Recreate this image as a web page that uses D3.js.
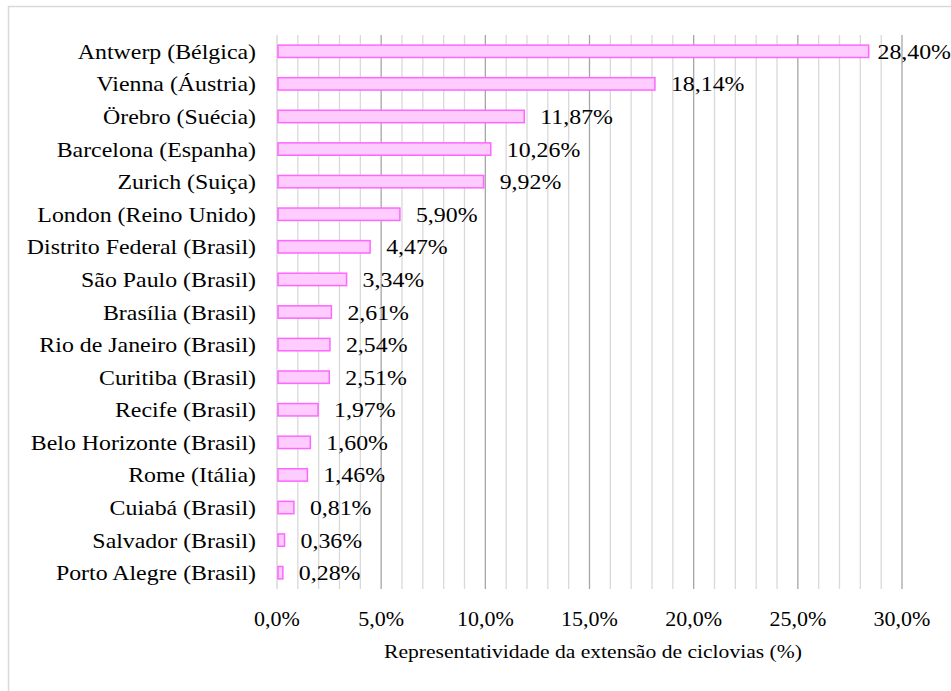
<!DOCTYPE html>
<html><head><meta charset="utf-8">
<script src="https://cdn.jsdelivr.net/npm/d3@7"></script>
<style>body{margin:0;background:#fff}svg{display:block}</style>
</head><body>
<script>
const categories = ["Antwerp (Bélgica)","Vienna (Áustria)","Örebro (Suécia)","Barcelona (Espanha)","Zurich (Suiça)","London (Reino Unido)","Distrito Federal (Brasil)","São Paulo (Brasil)","Brasília (Brasil)","Rio de Janeiro (Brasil)","Curitiba (Brasil)","Recife (Brasil)","Belo Horizonte (Brasil)","Rome (Itália)","Cuiabá (Brasil)","Salvador (Brasil)","Porto Alegre (Brasil)"];
const values = [28.40,18.14,11.87,10.26,9.92,5.90,4.47,3.34,2.61,2.54,2.51,1.97,1.60,1.46,0.81,0.36,0.28];
const xTicks = [0,5,10,15,20,25,30];
const axisTitle = "Representatividade da extensão de ciclovias (%)";

const W = 951, H = 691;
const svg = d3.select("body").append("svg").attr("width", W).attr("height", H);
const font = "Liberation Serif";
const SX = 1.11;

svg.append("rect").attr("x",8.5).attr("y",6.5).attr("width",W+10).attr("height",H+10)
  .attr("fill","none").attr("stroke","#d9d9d9").attr("stroke-width",1.5);

const x = d3.scaleLinear().domain([0,30]).range([277,902]);
const y = d3.scaleBand().domain(categories).range([35,589]).paddingInner(0.62).paddingOuter(0.31);
const plotTop = 35, plotBottom = 589;

const g = svg.append("g");
d3.range(1,31).filter(v=>v%5!==0).forEach(v=>{
  g.append("line").attr("x1",x(v)).attr("x2",x(v)).attr("y1",plotTop).attr("y2",plotBottom)
   .attr("stroke","#d9d9d9").attr("stroke-width",1.3);
});
xTicks.filter(v=>v>0).forEach(v=>{
  g.append("line").attr("x1",x(v)).attr("x2",x(v)).attr("y1",plotTop).attr("y2",plotBottom)
   .attr("stroke","#a6a6a6").attr("stroke-width",1.3);
});
g.append("line").attr("x1",x(0)).attr("x2",x(0)).attr("y1",plotTop).attr("y2",plotBottom)
 .attr("stroke","#d9d9d9").attr("stroke-width",1.5);

g.selectAll("rect.bar").data(values).join("rect").attr("class","bar")
 .attr("x",x(0)+1).attr("y",(d,i)=>y(categories[i]))
 .attr("width",d=>x(d)-x(0)-1).attr("height",y.bandwidth())
 .attr("fill","#ffccff").attr("stroke","#ff66ff").attr("stroke-width",1.5);

const vals = g.selectAll("text.val").data(values).join("text").attr("class","val")
 .attr("transform",(d,i)=>`translate(${x(d)+16},${y(categories[i])+y.bandwidth()/2}) scale(${SX},1)`)
 .attr("dy","0.35em").style("font-family",font).style("font-size","21.5px").attr("fill","#000")
 .text(d=>d.toFixed(2).replace(".",",")+"%");
vals.each(function(d,i){
  const w = this.getComputedTextLength()*SX;
  if (x(d)+16+w > W) {
    const nx = Math.max(x(d)+6, W - w);
    d3.select(this).attr("transform",`translate(${nx},${y(categories[i])+y.bandwidth()/2}) scale(${SX},1)`);
  }
});

g.selectAll("text.cat").data(categories).join("text").attr("class","cat")
 .attr("transform",d=>`translate(256,${y(d)+y.bandwidth()/2}) scale(${SX},1)`).attr("dy","0.35em")
 .attr("text-anchor","end").style("font-family",font).style("font-size","21.5px").attr("fill","#000")
 .text(d=>d);

g.selectAll("text.tick").data(xTicks).join("text").attr("class","tick")
 .attr("x",d=>x(d)).attr("y",626).attr("text-anchor","middle")
 .style("font-family",font).style("font-size","22px").attr("fill","#000")
 .text(d=>d.toFixed(1).replace(".",",")+"%");

svg.append("text").attr("transform","translate(593,658) scale(1.2,1)").attr("text-anchor","middle")
 .style("font-family",font).style("font-size","18px").attr("fill","#000").text(axisTitle);
</script>
</body></html>
